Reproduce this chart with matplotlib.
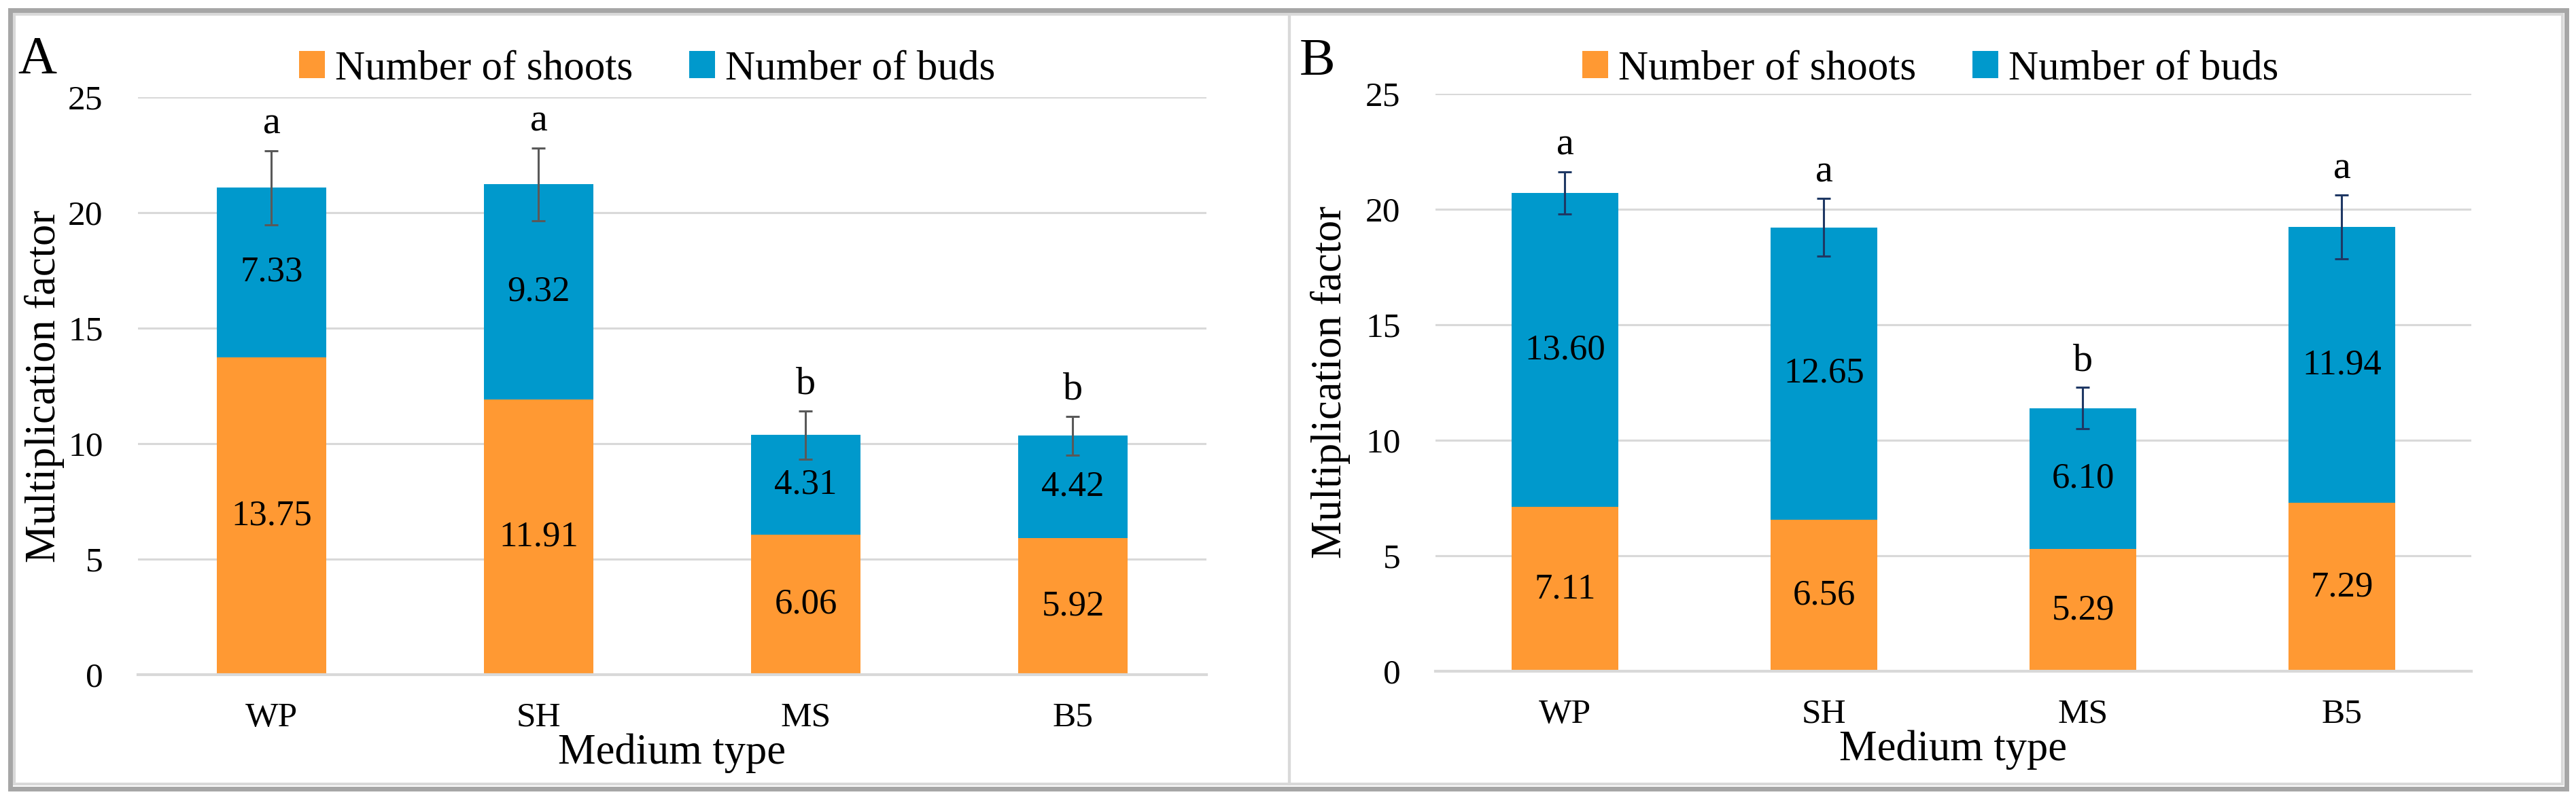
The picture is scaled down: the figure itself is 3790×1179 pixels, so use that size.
import matplotlib
matplotlib.use('Agg')
import matplotlib.pyplot as plt
from matplotlib.patches import Rectangle
import numpy as np

plt.rcParams['font.family'] = ['Liberation Serif', 'DejaVu Serif']

# data
media = ['WP', 'SH', 'MS', 'B5']

shoots_a = [13.75, 11.91, 6.06, 5.92]
buds_a = [7.33, 9.32, 4.31, 4.42]
err_a = [1.60, 1.57, 1.05, 0.85]
letters_a = ['a', 'a', 'b', 'b']

shoots_b = [7.11, 6.56, 5.29, 7.29]
buds_b = [13.60, 12.65, 6.10, 11.94]
err_b = [0.92, 1.25, 0.90, 1.38]
letters_b = ['a', 'a', 'b', 'a']

orange = '#FF9933'
blue = '#0099CC'
grid_col = '#D9D9D9'

W, H = 3791, 1179
fig = plt.figure(figsize=(W / 100, H / 100), dpi=100)


def draw_panel(rect, shoots, buds, err, letters, err_col, tag, tag_xy, legend_x, ypad):
    ax = fig.add_axes(rect)
    x = np.arange(len(media))
    ax.bar(x, shoots, width=0.41, color=orange, label='Number of shoots', zorder=2)
    ax.bar(x, buds, width=0.41, bottom=shoots, color=blue, label='Number of buds', zorder=2,
           yerr=err, error_kw=dict(ecolor=err_col, elinewidth=2.2, capsize=7.5, capthick=2.2, zorder=3))

    totals = np.array(shoots) + np.array(buds)
    for i in range(len(media)):
        ax.text(x[i], shoots[i] / 2, f'{shoots[i]:.2f}', ha='center', va='center', fontsize=38)
        ax.text(x[i], shoots[i] + buds[i] / 2, f'{buds[i]:.2f}', ha='center', va='center', fontsize=38)
        ax.text(x[i], totals[i] + err[i] + 1.15, letters[i], ha='center', va='center', fontsize=42)

    ax.set_xlim(-0.5, len(media) - 0.5)
    ax.set_ylim(0, 25)
    ax.set_yticks([0, 5, 10, 15, 20, 25])
    ax.set_xticks(x)
    ax.set_xticklabels(media)
    ax.tick_params(axis='both', length=0, labelsize=37)
    ax.tick_params(axis='y', pad=37)
    ax.tick_params(axis='x', pad=29)
    ax.yaxis.grid(True, color=grid_col, linewidth=2.2)
    ax.set_axisbelow(True)
    for s in ['top', 'right', 'left']:
        ax.spines[s].set_visible(False)
    ax.spines['bottom'].set_color(grid_col)
    ax.spines['bottom'].set_linewidth(3)
    ax.set_ylabel('Multiplication factor', fontsize=45, labelpad=ypad)
    ax.set_xlabel('Medium type', fontsize=45, labelpad=0)

    ax.legend(loc='center', bbox_to_anchor=(legend_x / W, 1 - 102 / H),
              bbox_transform=fig.transFigure, ncol=2, frameon=False, fontsize=44,
              handlelength=0.62, handleheight=0.62, handletextpad=0.25, columnspacing=1.35)

    fig.text(tag_xy[0] / W, 1 - tag_xy[1] / H, tag, fontsize=57, va='baseline', ha='left')
    return ax


draw_panel([203 / W, 1 - 993 / H, 1572 / W, 850 / H], shoots_a, buds_a, err_a, letters_a,
           '#595959', 'A', (26, 107), 952, 4)
draw_panel([2112 / W, 1 - 988 / H, 1524 / W, 850 / H], shoots_b, buds_b, err_b, letters_b,
           '#1F3864', 'B', (1912, 110), 2840, 16)

# panel frames: light inner borders and darker outer frame
fig.add_artist(Rectangle((21 / W, 1 - 1154 / H), 1876 / W, 1133 / H, transform=fig.transFigure,
                         fill=False, edgecolor=grid_col, linewidth=3))
fig.add_artist(Rectangle((1897 / W, 1 - 1154 / H), 1873 / W, 1133 / H, transform=fig.transFigure,
                         fill=False, edgecolor=grid_col, linewidth=3))
fig.add_artist(Rectangle((15 / W, 1 - 1161 / H), 3761 / W, 1146 / H, transform=fig.transFigure,
                         fill=False, edgecolor='#A6A6A6', linewidth=5))

fig.savefig('out.png', dpi=100)
